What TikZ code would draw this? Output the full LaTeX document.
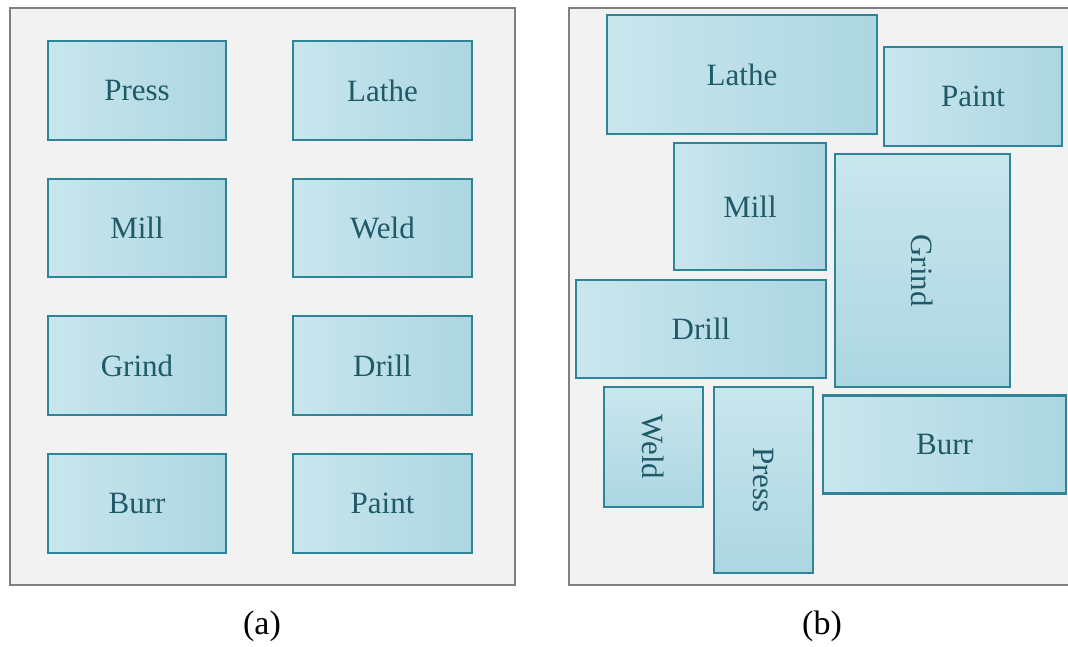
\documentclass[tikz,border=0pt]{standalone}
\usepackage{fontspec}
\setmainfont{Liberation Serif}
\begin{document}
\definecolor{boxlight}{HTML}{C9E6ED}
\definecolor{boxdark}{HTML}{ACD6E2}
\definecolor{boxedge}{HTML}{2F8497}
\definecolor{boxtext}{HTML}{1F5A68}
\definecolor{panelfill}{HTML}{F2F2F2}
\definecolor{paneledge}{HTML}{808080}
\begin{tikzpicture}[x=1pt,y=-1pt,
  panel/.style={draw=paneledge,fill=panelfill,line width=2.2pt},
  machine/.style={draw=boxedge,line width=2.8pt,left color=boxlight,right color=boxdark,
    text=boxtext,font=\fontsize{31}{36}\selectfont,inner sep=0pt,anchor=center},
  vmachine/.style={draw=boxedge,line width=2.8pt,top color=boxlight,bottom color=boxdark,
    inner sep=0pt,anchor=center},
  vlabel/.style={rotate=-90,text=boxtext,font=\fontsize{31}{36}\selectfont},
  caption/.style={font=\fontsize{34}{40}\selectfont,text=black}]
\useasboundingbox (0,0) rectangle (1068,646);

% panel (a): regular grid layout
\draw[panel] (10,8) rectangle (515,585);
\node[machine,minimum width=178pt,minimum height=99pt] (pa) at (137,90.5) {Press};
\node[machine,minimum width=179pt,minimum height=99pt] (la) at (382.5,90.5) {Lathe};
\node[machine,minimum width=178pt,minimum height=98pt] (ma) at (137,228) {Mill};
\node[machine,minimum width=179pt,minimum height=98pt] (wa) at (382.5,228) {Weld};
\node[machine,minimum width=178pt,minimum height=99pt] (ga) at (137,365.5) {Grind};
\node[machine,minimum width=179pt,minimum height=99pt] (da) at (382.5,365.5) {Drill};
\node[machine,minimum width=178pt,minimum height=99pt] (ba) at (137,503.5) {Burr};
\node[machine,minimum width=179pt,minimum height=99pt] (pta) at (382.5,503.5) {Paint};
\node[caption] (capa) at (262,626) {(a)};

% panel (b): compact irregular layout
\draw[panel] (569,8) rectangle (1080,585);
\node[machine,minimum width=270pt,minimum height=119pt] (lb) at (742,74.5) {Lathe};
\node[machine,minimum width=178pt,minimum height=99pt] (ptb) at (973,96.5) {Paint};
\node[machine,minimum width=152pt,minimum height=127pt] (mb) at (750,206.5) {Mill};
\node[vmachine,minimum width=175pt,minimum height=233pt] (gb) at (922.5,270.5) {};
\node[vlabel] (gbt) at (gb.center) {Grind};
\node[machine,minimum width=250pt,minimum height=98pt] (db) at (701,329) {Drill};
\node[vmachine,minimum width=99pt,minimum height=120pt] (wb) at (653.5,447) {};
\node[vlabel] (wbt) at (wb.center) {Weld};
\node[vmachine,minimum width=99pt,minimum height=186pt] (pb) at (763.5,480) {};
\node[vlabel] (pbt) at (pb.center) {Press};
\node[machine,minimum width=243pt,minimum height=98pt] (bb) at (944.5,444.5) {Burr};
\node[caption] (capb) at (822,626) {(b)};
\end{tikzpicture}
\end{document}
